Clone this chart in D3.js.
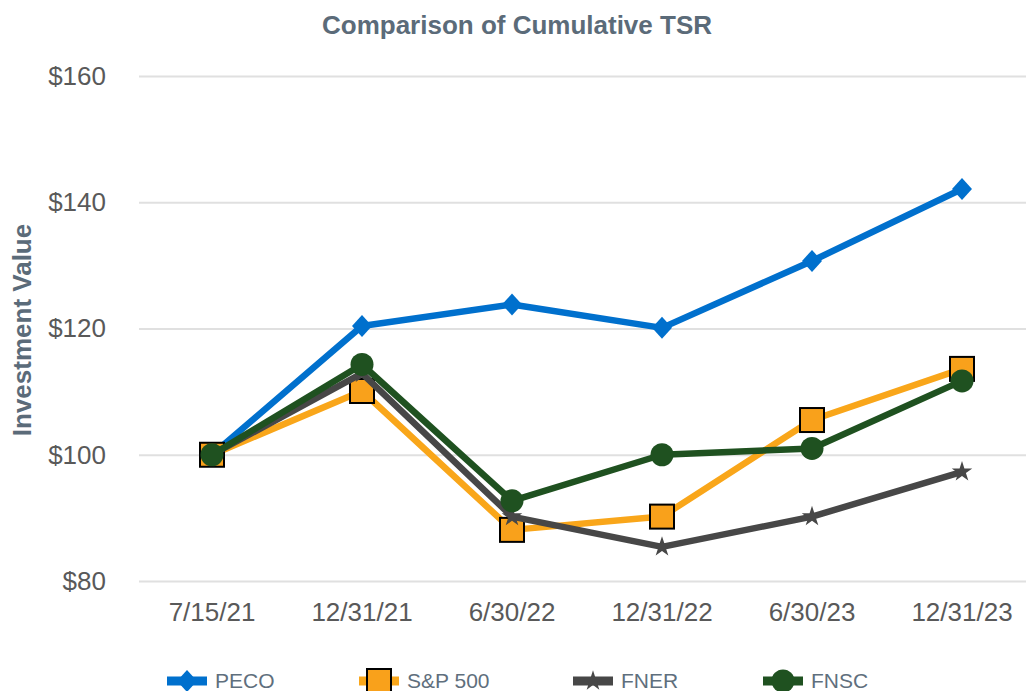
<!DOCTYPE html>
<html>
<head>
<meta charset="utf-8">
<script src="https://cdn.jsdelivr.net/npm/d3@7"></script>
<style>
  body { margin: 0; background: #fff; }
  svg { display: block; font-family: "Liberation Sans", Arial, sans-serif; }
</style>
</head>
<body>
<svg width="1026" height="691"></svg>
<script>
const dates = ['7/15/21', '12/31/21', '6/30/22', '12/31/22', '6/30/23', '12/31/23'];
const peco = [100, 120.4, 123.8, 120.1, 130.7, 142.1];
const sp500 = [100, 110.1, 88.1, 90.2, 105.5, 113.6];
const fner = [100, 112.9, 90.2, 85.4, 90.2, 97.3];
const fnsc = [100, 114.3, 92.7, 100.0, 101.0, 111.7];
const yTicks = [80, 100, 120, 140, 160];

const series = [
  { name: 'PECO', values: peco, color: '#0070cd', marker: 'diamond' },
  { name: 'S&P 500', values: sp500, color: '#f9a61a', marker: 'square' },
  { name: 'FNER', values: fner, color: '#474747', marker: 'star' },
  { name: 'FNSC', values: fnsc, color: '#1f5120', marker: 'circle' }
];

const svg = d3.select('svg');
const width = +svg.attr('width');

const x = d3.scaleBand().domain(dates).range([137, 1037]);
const y = d3.scaleLinear().domain([80, 160]).range([581, 76]);
const cx = d => x(d) + x.bandwidth() / 2;

// title
svg.append('text')
  .attr('x', 517).attr('y', 34)
  .attr('text-anchor', 'middle')
  .attr('font-size', 26).attr('font-weight', 'bold')
  .attr('fill', '#5b6b79')
  .text('Comparison of Cumulative TSR');

// gridlines + y labels
const yAxis = d3.axisLeft(y).tickValues(yTicks)
  .tickSize(-(width - 139)).tickPadding(33)
  .tickFormat(d => '$' + d);
const yG = svg.append('g').attr('transform', 'translate(139,0)').call(yAxis);
yG.select('.domain').remove();
yG.selectAll('.tick line').attr('stroke', '#e0e0e0').attr('stroke-width', 2);
yG.selectAll('.tick text').attr('font-size', 26).attr('fill', '#595959')
  .attr('font-family', '"Liberation Sans", Arial, sans-serif');

svg.append('text')
  .attr('transform', 'translate(31,330) rotate(-90)')
  .attr('text-anchor', 'middle')
  .attr('font-size', 26).attr('font-weight', 'bold')
  .attr('fill', '#5b6b79')
  .text('Investment Value');

// x labels
const xAxis = d3.axisBottom(x).tickSize(0).tickPadding(0);
const xG = svg.append('g').attr('transform', 'translate(0,603)').call(xAxis);
xG.select('.domain').remove();
xG.selectAll('.tick text').attr('font-size', 26).attr('fill', '#595959')
  .attr('font-family', '"Liberation Sans", Arial, sans-serif');

const star = d3.symbol().type(d3.symbolStar);

function drawMarker(sel, s, px, py) {
  if (s.marker === 'diamond') {
    sel.append('path')
      .attr('d', 'M0,-11L10,0L0,11L-10,0Z')
      .attr('transform', `translate(${px},${py})`)
      .attr('fill', s.color);
  } else if (s.marker === 'square') {
    sel.append('rect')
      .attr('x', px - 12).attr('y', py - 12)
      .attr('width', 24).attr('height', 24)
      .attr('fill', '#f9a11b').attr('stroke', '#000').attr('stroke-width', 2);
  } else if (s.marker === 'star') {
    sel.append('path')
      .attr('d', star.size(130)())
      .attr('transform', `translate(${px},${py})`)
      .attr('fill', s.color);
  } else {
    sel.append('circle')
      .attr('cx', px).attr('cy', py).attr('r', 11.5)
      .attr('fill', s.color);
  }
}

const line = d3.line()
  .x((d, i) => cx(dates[i]))
  .y(d => y(d));

series.forEach(s => {
  const g = svg.append('g');
  g.append('path')
    .attr('d', line(s.values))
    .attr('fill', 'none')
    .attr('stroke', s.color)
    .attr('stroke-width', 6.5)
    .attr('stroke-linejoin', 'round');
  s.values.forEach((v, i) => drawMarker(g, s, cx(dates[i]), y(v)));
});

// legend
const legendX = [167, 359, 573, 763];
const ly = 681;
series.forEach((s, i) => {
  const g = svg.append('g');
  g.append('line')
    .attr('x1', legendX[i]).attr('x2', legendX[i] + 40)
    .attr('y1', ly).attr('y2', ly)
    .attr('stroke', s.color).attr('stroke-width', 9);
  drawMarker(g, s, legendX[i] + 20, ly);
  g.append('text')
    .attr('x', legendX[i] + 48).attr('y', ly + 7)
    .attr('font-size', 21).attr('fill', '#5f6f7d')
    .text(s.name);
});
</script>
</body>
</html>
